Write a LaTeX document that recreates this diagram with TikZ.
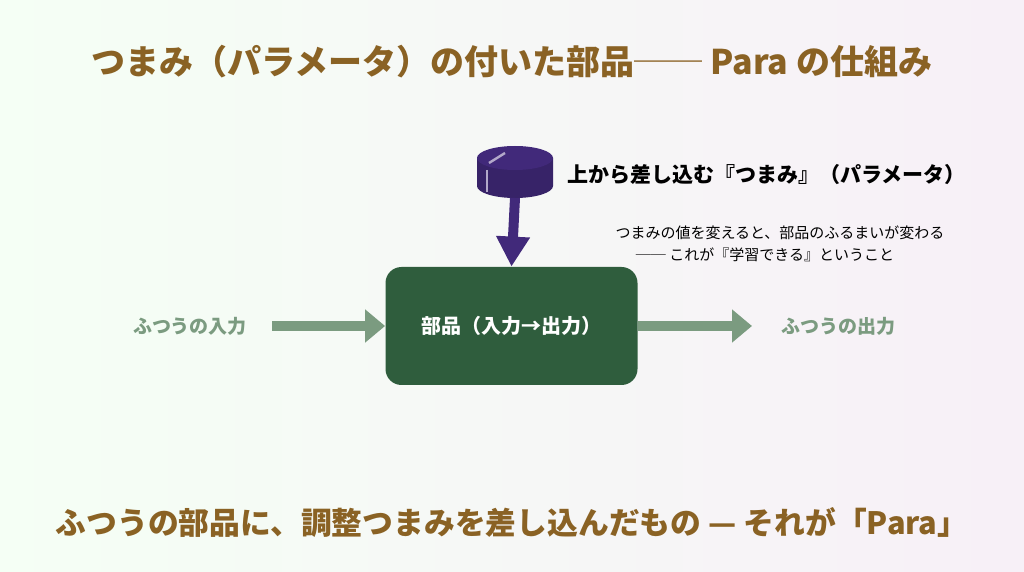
\documentclass[tikz,border=0pt]{standalone}
\usepackage{fontspec}
\setmainfont{Noto Sans CJK JP}
\usetikzlibrary{arrows.meta}
\definecolor{titlebrown}{HTML}{8A6224}
\definecolor{knobpurple}{HTML}{41297A}
\definecolor{boxgreen}{HTML}{2F5D3D}
\definecolor{flowgreen}{HTML}{7B9B80}
\tikzstyle{heading} = [text=titlebrown, font=\bfseries\fontsize{17}{20}\selectfont]
\tikzstyle{flowlabel} = [text=flowgreen, font=\bfseries\fontsize{9.5}{11}\selectfont]
\tikzstyle{flowarrow} = [flowgreen, line width=5pt, -{Triangle[length=10pt,width=16pt]}]

\begin{document}
\begin{tikzpicture}[x=0.5pt,y=-0.5pt]

	\shade[left color=green!4!white, right color=violet!6!white] (0,0) rectangle (1024,572);
	\useasboundingbox (0,0) rectangle (1024,572);

	\node[heading] (title) at (512,62) {つまみ（パラメータ）の付いた部品── Para の仕組み};

	% knob on top
	\fill[knobpurple!85!black] (477,158) -- (477,186) arc[start angle=180,end angle=0,x radius=38,y radius=12] -- (553,158) -- cycle;
	\fill[knobpurple] (515,158) ellipse[x radius=38,y radius=12];
	\draw[white!60!knobpurple, line width=1.2pt] (487,170) -- (487,192);
	\draw[white!60!knobpurple, line width=1.2pt] (489,163) -- (505,153);
	\coordinate (knob) at (515,198);

	\node[font=\bfseries\fontsize{10.5}{12}\selectfont, anchor=west] (knoblabel) at (560,175) {上から差し込む『つまみ』（パラメータ）};
	\node[font=\fontsize{7.5}{9}\selectfont] (note1) at (780,233) {つまみの値を変えると、部品のふるまいが変わる};
	\node[font=\fontsize{7.5}{9}\selectfont] (note2) at (765,255) {── これが『学習できる』ということ};

	\node[fill=boxgreen, rounded corners=8pt, minimum width=126pt, minimum height=59pt, text=white, font=\bfseries\fontsize{10}{12}\selectfont] (part) at (511.5,326) {部品（入力→出力）};

	\draw[knobpurple, line width=5pt, -{Triangle[length=15pt,width=16pt]}] (knob) -- (part.north);

	\node[flowlabel] (input) at (190,326) {ふつうの入力};
	\node[flowlabel] (output) at (838,326) {ふつうの出力};
	\coordinate (instart) at (272,326);
	\coordinate (outend) at (752,326);
	\draw[flowarrow] (instart) -- (part.west);
	\draw[flowarrow] (part.east) -- (outend);

	\node[heading, font=\bfseries\fontsize{15.4}{18}\selectfont] (summary) at (512,523) {ふつうの部品に、調整つまみを差し込んだもの — それが「Para」};

\end{tikzpicture}
\end{document}
